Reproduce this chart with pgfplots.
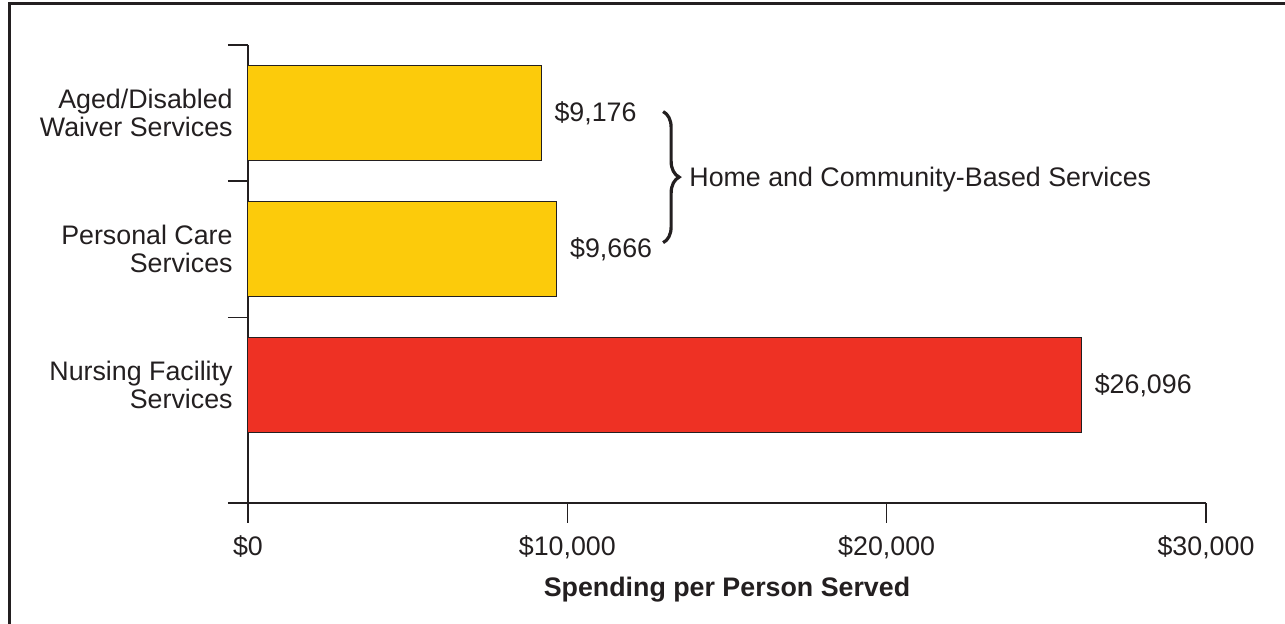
\documentclass[border=0pt]{standalone}
\usepackage{fontspec}
\setmainfont{Liberation Sans}
\usepackage{pgfplots}
\pgfplotsset{compat=1.18}
\usetikzlibrary{decorations.pathreplacing}
\definecolor{hcbs}{HTML}{FCCB0B}
\definecolor{nf}{HTML}{EE3124}
\definecolor{ink}{HTML}{231F20}

\begin{document}
\begin{tikzpicture}[font=\fontsize{13.4}{14}\selectfont]
% page = 1285x624 px at 0.5pt per px, axis box origin at px (248,503)
\path[use as bounding box] (-124pt,-60.5pt) rectangle (518.5pt,251.5pt);
\draw[ink, line width=1.5pt] (-119.25pt,-62pt) -- (-119.25pt,249.75pt) -- (520pt,249.75pt);

\begin{axis}[
    at={(0,0)}, anchor=south west,
    scale only axis,
    width=479pt, height=229pt,
    xmin=0, xmax=30000,
    ymin=0.136, ymax=3.5,
    axis x line=bottom, axis y line=left,
    axis line style={-, ink, line width=0.75pt},
    tick align=outside,
    major tick length=10pt,
    tick style={ink, line width=0.75pt},
    scaled x ticks=false,
    xtick={0,10000,20000,30000},
    xticklabels={\$0,\$10{,}000,\$20{,}000,\$30{,}000},
    xticklabel style={yshift=-3pt, text=ink},
    ytick={0.136,1.5,2.5,3.5},
    yticklabels={},
    xlabel={Spending per Person Served},
    xlabel style={font=\fontsize{13.4}{14}\selectfont\bfseries, text=ink,
        at={(axis description cs:0.5,0)}, anchor=center, yshift=-43.5pt},
    clip=false,
]
    % home and community-based services
    \addplot[xbar, bar width=47.5pt, bar shift=0pt, fill=hcbs, draw=ink, line width=0.5pt,
        nodes near coords, point meta=explicit symbolic,
        nodes near coords style={anchor=west, inner sep=0pt, xshift=6.5pt, text=ink}]
        coordinates {(9176,3) [\$9,176] (9666,2) [\$9,666]};
    % nursing facility
    \addplot[xbar, bar width=47.5pt, bar shift=0pt, fill=nf, draw=ink, line width=0.5pt,
        nodes near coords, point meta=explicit symbolic,
        nodes near coords style={anchor=west, inner sep=0pt, xshift=6.5pt, text=ink}]
        coordinates {(26096,1) [\$26,096]};

    \node[anchor=east, align=right, inner sep=0pt, xshift=-7.5pt, text=ink] at (axis cs:0,3) {Aged/Disabled\\Waiver Services};
    \node[anchor=east, align=right, inner sep=0pt, xshift=-7.5pt, text=ink] at (axis cs:0,2) {Personal Care\\Services};
    \node[anchor=east, align=right, inner sep=0pt, xshift=-7.5pt, text=ink] at (axis cs:0,1) {Nursing Facility\\Services};

    \draw[ink, line width=1.6pt, decorate, decoration={brace, amplitude=8pt}]
        (axis cs:13000,3.011) -- (axis cs:13000,2.048);
    \node[anchor=west, inner sep=0pt, text=ink] at (axis cs:13810,2.51) {Home and Community-Based Services};
\end{axis}
\end{tikzpicture}
\end{document}
